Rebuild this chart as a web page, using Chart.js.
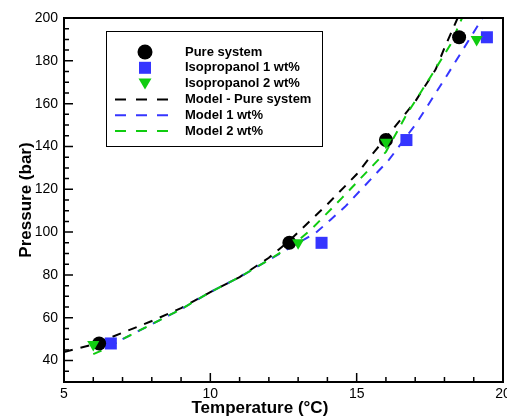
<!DOCTYPE html>
<html>
<head>
<meta charset="utf-8">
<script src="https://cdn.jsdelivr.net/npm/chart.js@4"></script>
<style>
  html, body { margin: 0; padding: 0; background: #fff; overflow: hidden; }
  #wrap { position: relative; width: 515px; height: 419px; }
</style>
</head>
<body>
<div id="wrap"><canvas id="pressurechart"></canvas></div>
<script>
// measured points (temperature in °C, pressure in bar)
var pureT = [6.2, 12.7, 16.0, 18.5];
var pureP = [48, 95, 143, 191];
var iso1T = [6.6, 13.8, 16.7, 19.45];
var iso1P = [48, 95, 143, 191];
var iso2T = [6.0, 13.0, 16.0, 19.1];
var iso2P = [47.5, 95, 142, 190];

// model curves
var modelPureT = [5.0, 6.0, 7.0, 8.0, 9.0, 10.0, 11.0, 12.0, 12.7, 13.2, 14.0, 15.0, 15.6, 16.0, 17.0, 17.7, 18.0, 18.45];
var modelPureP = [44, 47.5, 53, 58.5, 64.5, 72, 79, 88, 96, 102.5, 113, 127, 137.5, 144, 161, 176, 186, 200];
var model1T = [6.5, 7.0, 8.0, 9.0, 10.0, 11.0, 12.0, 13.0, 13.6, 14.1, 14.6, 16.1, 17.05, 18.1, 19.3];
var model1P = [46, 50, 57, 64, 72, 79, 87, 95, 99.6, 105.7, 111.8, 133.7, 151, 173.5, 200];
var model2T = [6.0, 6.5, 7.0, 8.0, 9.0, 10.0, 11.0, 12.0, 12.4, 13.0, 13.5, 14.5, 16.0, 16.7, 17.5, 18.2, 18.6];
var model2P = [43, 46, 50, 57, 64, 72, 79, 87, 90.5, 96, 102, 116, 137.5, 154.8, 172, 187.5, 200];

var xTicks = [5, 10, 15, 20];
var yTicks = [30, 40, 60, 80, 100, 120, 140, 160, 180, 200];
var yTickLabels = ['', '40', '60', '80', '100', '120', '140', '160', '180', '200'];

function pts(xs, ys) {
    return xs.map(function (x, i) { return {x: x, y: ys[i]}; });
}

var blue = '#3535ff';
var green = '#10cc10';

// frame + inward ticks, like the original plot
var framePlugin = {
    id: 'frame',
    afterDraw: function (chart) {
        var c = chart.ctx, a = chart.chartArea;
        var xs = chart.scales.x, ys = chart.scales.y;
        c.save();
        c.strokeStyle = '#000';
        c.lineWidth = 2;
        c.strokeRect(a.left, a.top, a.right - a.left, a.bottom - a.top);
        c.lineWidth = 1.5;
        c.beginPath();
        for (var t = 5; t <= 20; t++) {
            var px = xs.getPixelForValue(t);
            var len = (t % 5 === 0) ? 9 : 5;
            c.moveTo(px, a.bottom);
            c.lineTo(px, a.bottom - len);
        }
        for (var v = 30; v <= 200; v += 5) {
            var py = ys.getPixelForValue(v);
            var l2 = (v % 20 === 0) ? 9 : 5;
            c.moveTo(a.left, py);
            c.lineTo(a.left + l2, py);
        }
        c.stroke();
        c.restore();
    }
};

// boxed legend inside the plot
var legendPlugin = {
    id: 'boxlegend',
    afterDraw: function (chart) {
        var c = chart.ctx;
        var items = chart.data.datasets.slice().sort(function (a, b) { return a.legendIndex - b.legendIndex; });
        c.save();
        c.strokeStyle = '#000';
        c.lineWidth = 1;
        c.strokeRect(106.5, 31.5, 216, 115);
        c.font = 'bold 13px "Liberation Sans", Arial, sans-serif';
        c.textBaseline = 'middle';
        items.forEach(function (ds, i) {
            var y = 52 + i * 15.8;
            if (ds.showLine) {
                c.strokeStyle = ds.borderColor;
                c.lineWidth = 2;
                c.setLineDash([11, 10]);
                c.beginPath();
                c.moveTo(115, y);
                c.lineTo(168, y);
                c.stroke();
                c.setLineDash([]);
            } else {
                c.fillStyle = ds.backgroundColor;
                c.beginPath();
                if (ds.pointStyle === 'circle') {
                    c.arc(145, y, 7.5, 0, Math.PI * 2);
                } else if (ds.pointStyle === 'rect') {
                    c.rect(139, y - 6, 12, 12);
                } else {
                    c.moveTo(138.5, y - 5);
                    c.lineTo(151.5, y - 5);
                    c.lineTo(145, y + 6);
                    c.closePath();
                }
                c.fill();
            }
            c.fillStyle = '#000';
            c.fillText(ds.label, 185, y);
        });
        c.restore();
    }
};

var ctx = document.getElementById('pressurechart').getContext('2d');

var pressurechart = new Chart(ctx, {
    type: 'scatter',
    data: {
        datasets: [{
            label: 'Isopropanol 2 wt%',
            legendIndex: 2,
            data: pts(iso2T, iso2P),
            pointStyle: 'triangle',
            rotation: 180,
            pointRadius: 7,
            backgroundColor: green,
            borderWidth: 0,
            order: 1
        }, {
            label: 'Pure system',
            legendIndex: 0,
            data: pts(pureT, pureP),
            pointStyle: 'circle',
            pointRadius: 7,
            backgroundColor: '#000',
            borderWidth: 0,
            order: 2
        }, {
            label: 'Isopropanol 1 wt%',
            legendIndex: 1,
            data: pts(iso1T, iso1P),
            pointStyle: 'rect',
            pointRadius: 8.5,
            backgroundColor: blue,
            borderWidth: 0,
            order: 3
        }, {
            label: 'Model 2 wt%',
            legendIndex: 5,
            data: pts(model2T, model2P),
            showLine: true,
            pointRadius: 0,
            borderColor: green,
            borderWidth: 2,
            borderDash: [9, 8],
            order: 4
        }, {
            label: 'Model 1 wt%',
            legendIndex: 4,
            data: pts(model1T, model1P),
            showLine: true,
            pointRadius: 0,
            borderColor: blue,
            borderWidth: 2,
            borderDash: [9, 8],
            order: 5
        }, {
            label: 'Model - Pure system',
            legendIndex: 3,
            data: pts(modelPureT, modelPureP),
            showLine: true,
            pointRadius: 0,
            borderColor: '#000',
            borderWidth: 2,
            borderDash: [9, 8],
            order: 6
        }]
    },
    options: {
        responsive: true,
        maintainAspectRatio: false,
        animation: false,
        clip: true,
        layout: { padding: { top: 18, right: 12, left: 0, bottom: 0 } },
        plugins: {
            legend: { display: false },
            tooltip: { enabled: false }
        },
        scales: {
            x: {
                type: 'linear',
                min: 5,
                max: 20,
                afterBuildTicks: function (scale) {
                    scale.ticks = xTicks.map(function (v) { return {value: v}; });
                },
                afterFit: function (scale) { scale.height = 37; },
                grid: { display: false, drawTicks: false },
                border: { display: false },
                ticks: {
                    padding: 4,
                    color: '#000',
                    maxRotation: 0,
                    font: { family: '"Liberation Sans", Arial, sans-serif', size: 14 }
                },
                title: {
                    display: true,
                    // trailing spaces nudge the centred title left, as in the original
                    text: 'Temperature (°C)          ',
                    color: '#000',
                    padding: { top: 0, bottom: 0 },
                    font: { family: '"Liberation Sans", Arial, sans-serif', size: 17, weight: 'bold' }
                }
            },
            y: {
                type: 'linear',
                min: 30,
                max: 200,
                afterBuildTicks: function (scale) {
                    scale.ticks = yTicks.map(function (v) { return {value: v}; });
                },
                afterFit: function (scale) { scale.width = 64; },
                grid: { display: false, drawTicks: false },
                border: { display: false },
                ticks: {
                    padding: 6,
                    color: '#000',
                    font: { family: '"Liberation Sans", Arial, sans-serif', size: 14 },
                    callback: function (value, index) { return yTickLabels[index]; }
                },
                title: {
                    display: true,
                    text: 'Pressure (bar)',
                    color: '#000',
                    padding: { top: 16, bottom: 0 },
                    font: { family: '"Liberation Sans", Arial, sans-serif', size: 17, weight: 'bold' }
                }
            }
        }
    },
    plugins: [framePlugin, legendPlugin]
});
</script>
</body>
</html>
